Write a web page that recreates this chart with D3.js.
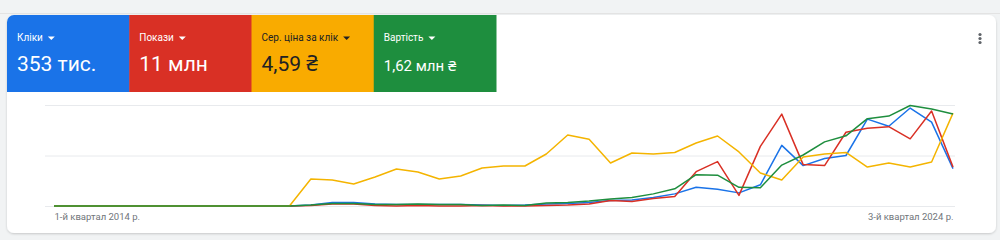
<!DOCTYPE html>
<html>
<head>
<meta charset="utf-8">
<script src="https://cdn.jsdelivr.net/npm/d3@7"></script>
<style>
  body { margin: 0; background: #f1f3f4; font-family: Roboto, "Noto Sans", sans-serif; }
  svg { display: block; }
</style>
</head>
<body>
<svg width="1000" height="240"></svg>
<script>
// quarters 2014 Q1 .. 2024 Q3
const quarters = [];
for (let y = 2014; y <= 2024; y++) {
  for (let q = 1; q <= 4; q++) {
    if (y === 2024 && q > 3) break;
    quarters.push(q + "-й квартал " + y + " р.");
  }
}

// each metric is on its own relative scale (0..100 of the chart height)
const clicks = [0,0,0,0,0,0,0,0,0,0,0,0,1,3.5,3.5,2,1.5,1.5,1.5,1.5,1,0.5,1,2,2.5,3.5,5.5,6,8.5,12,
  18.5,16.5,13,21,60,40,47,50,86,79,97,83,37];
const impressions = [0,0,0,0,0,0,0,0,0,0,0,0,0.5,2,2,0.5,0,0.5,0,0,0.5,0,0,0.5,1,2,5.5,4.5,7.5,9.5,
  34,44,10.5,59,91,41,40,73,77,78.5,66.5,94,38.5];
const avgCpc = [0,0,0,0,0,0,0,0,0,0,0,0,26.7,25.7,21.8,28.7,36.6,33.7,26.7,29.7,37.6,39.6,39.6,51.5,70.3,66,42.6,52.5,51.5,53,
  62.4,69.3,53.5,32.7,25.7,48.5,51.5,53,38.6,42.6,38.6,43.6,92];
const cost = [0,0,0,0,0,0,0,0,0,0,0,0,1,2.5,2.5,1.5,1.5,2,1.5,1.5,0.5,1,0.5,3,3.5,5,7,8.5,12,17,
  31,30.5,18.5,18,40.5,50.5,63.5,69.5,86.5,89,99.5,96,91];

const tiles = [
  { name: "Кліки", value: "353 тис.", color: "#1a73e8", text: "#fff", size: 21 },
  { name: "Покази", value: "11 млн", color: "#d93025", text: "#fff", size: 21 },
  { name: "Сер. ціна за клік", value: "4,59 ₴", color: "#f9ab00", text: "#202124", size: 21 },
  { name: "Вартість", value: "1,62 млн ₴", color: "#1e8e3e", text: "#fff", size: 15 }
];

const series = [
  { values: clicks, color: "#1a73e8" },
  { values: impressions, color: "#d93025" },
  { values: avgCpc, color: "#f4b400" },
  { values: cost, color: "#1e8e3e" }
];

const svg = d3.select("svg");

// top strip
svg.append("line").attr("x1", 0).attr("x2", 1000).attr("y1", 13.5).attr("y2", 13.5)
  .attr("stroke", "#e3e3e3");

// card
const defs = svg.append("defs");
const f = defs.append("filter").attr("id", "sh").attr("x", "-5%").attr("y", "-10%").attr("width", "110%").attr("height", "130%");
f.append("feDropShadow").attr("dx", 0).attr("dy", 1).attr("stdDeviation", 1).attr("flood-color", "#000").attr("flood-opacity", 0.18);
svg.append("rect").attr("x", 7).attr("y", 15).attr("width", 989).attr("height", 218)
  .attr("rx", 7).attr("fill", "#fff").attr("filter", "url(#sh)");

defs.append("clipPath").attr("id", "cardclip").append("rect")
  .attr("x", 7).attr("y", 15).attr("width", 989).attr("height", 218).attr("rx", 7);

// tiles
const tx = d3.scaleBand().domain(tiles.map(d => d.name)).range([7, 496]);
const tg = svg.append("g").attr("clip-path", "url(#cardclip)")
  .selectAll("g").data(tiles).join("g")
  .attr("transform", d => `translate(${tx(d.name)},15)`);
tg.append("rect").attr("width", tx.bandwidth() + 0.5).attr("height", 77).attr("fill", d => d.color);
const lab = tg.append("text").attr("x", 10).attr("y", 25.5).attr("font-size", 10)
  .attr("fill", d => d.text).text(d => d.name);
lab.each(function(d) {
  const w = this.getComputedTextLength();
  d3.select(this.parentNode).append("path")
    .attr("d", `M${10 + w + 5},${21.5} l7,0 l-3.5,3.5 z`)
    .attr("fill", d.text);
});
tg.append("text").attr("x", 10).attr("y", 56).attr("font-size", d => d.size)
  .attr("fill", d => d.text).text(d => d.value);

// menu dots
svg.append("g").selectAll("circle").data([0, 1, 2]).join("circle")
  .attr("cx", 980).attr("cy", d => 34.5 + d * 4).attr("r", 1.6).attr("fill", "#5f6368");

// chart
const x = d3.scaleLinear().domain([0, quarters.length - 1]).range([54, 953]);
const y = d3.scaleLinear().domain([0, 100]).range([206, 105]);

const grid = svg.append("g").attr("transform", "translate(955,0)")
  .call(d3.axisLeft(y).tickValues([0, 50, 100]).tickSize(910).tickFormat(""));
grid.select(".domain").remove();
grid.selectAll("line").attr("stroke", "#e8eaed");

const line = d3.line().x((d, i) => x(i)).y(d => y(d));
svg.append("g").selectAll("path").data(series).join("path")
  .attr("d", d => line(d.values))
  .attr("fill", "none").attr("stroke", d => d.color).attr("stroke-width", 1.5)
  .attr("stroke-linejoin", "round");

const xa = svg.append("g").attr("transform", "translate(0,206)")
  .call(d3.axisBottom(x).tickValues([0, quarters.length - 1]).tickSize(0).tickPadding(7)
    .tickFormat(i => quarters[i]));
xa.select(".domain").remove();
xa.selectAll("text").attr("font-size", 9.5).attr("fill", "#70757a")
  .attr("font-family", "Roboto, sans-serif")
  .attr("text-anchor", (d, i) => i === 0 ? "start" : "end");
</script>
</body>
</html>
